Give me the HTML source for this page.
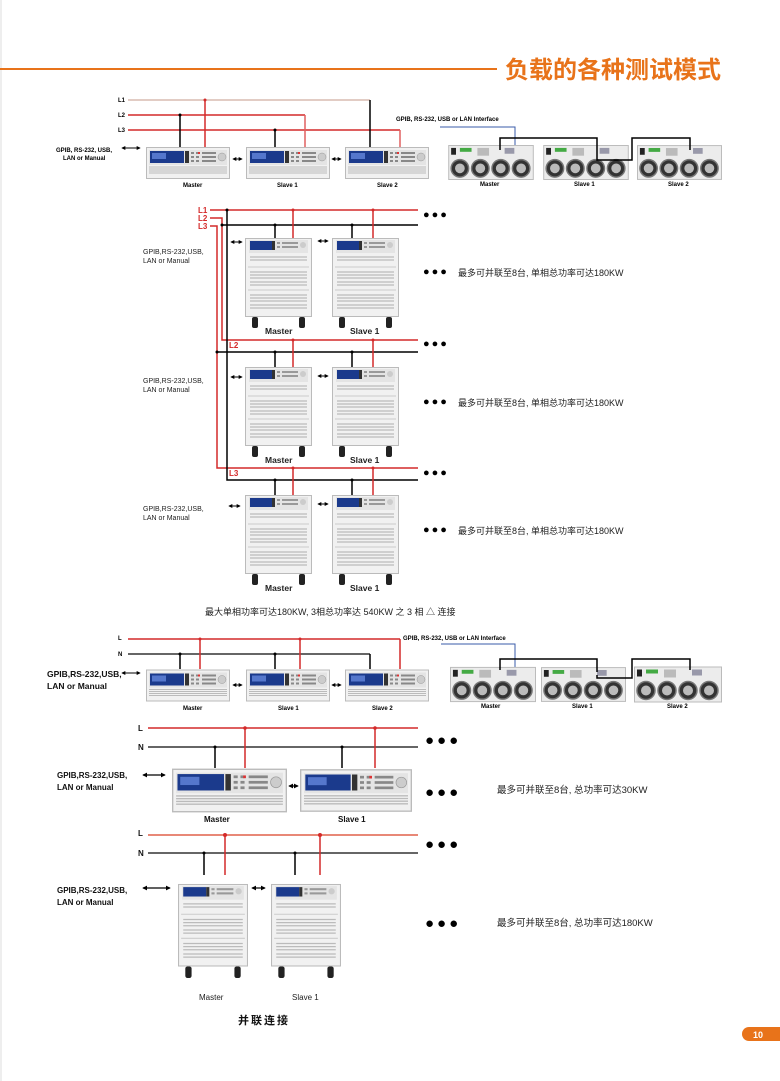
<!DOCTYPE html>
<html><head><meta charset="utf-8"><style>
html,body{margin:0;padding:0;background:#fff;}
svg{display:block;font-family:"Liberation Sans","Noto Sans CJK SC",sans-serif;}
</style></head><body>
<svg width="780" height="1081" viewBox="0 0 780 1081" xmlns="http://www.w3.org/2000/svg">
<defs>
<symbol id="front" viewBox="0 0 84 32">
<rect x="0.5" y="0.5" width="83" height="31" fill="#f1f1f1" stroke="#bbb"/>
<rect x="3" y="3" width="78" height="15" fill="#e4e4e4"/>
<rect x="4" y="4" width="34" height="12" fill="#1b3a8c"/>
<rect x="6" y="6" width="14" height="6" fill="#5577cc"/>
<rect x="39" y="4" width="4" height="12" fill="#333"/>
<g fill="#888"><rect x="45" y="5" width="3" height="2"/><rect x="50" y="5" width="3" height="2"/><rect x="45" y="9" width="3" height="2"/><rect x="50" y="9" width="3" height="2"/><rect x="45" y="13" width="3" height="2"/><rect x="50" y="13" width="3" height="2"/><rect x="56" y="5" width="14" height="2"/><rect x="56" y="9" width="14" height="2"/><rect x="56" y="13" width="14" height="2"/></g>
<rect x="52" y="5" width="2" height="2" fill="#d33"/>
<circle cx="76" cy="10" r="4" fill="#ccc" stroke="#999" stroke-width="0.5"/>
<g stroke="#bbb" stroke-width="1"><line x1="3" y1="20" x2="81" y2="20"/><line x1="3" y1="22" x2="81" y2="22"/><line x1="3" y1="24" x2="81" y2="24"/><line x1="3" y1="26" x2="81" y2="26"/></g>
</symbol>
<symbol id="tall" viewBox="0 0 67 90">
<rect x="0.5" y="0.5" width="66" height="78" fill="#f1f1f1" stroke="#bbb"/>
<rect x="4" y="2" width="59" height="13" fill="#e4e4e4"/>
<rect x="5" y="3" width="22" height="9" fill="#1b3a8c"/>
<rect x="27" y="3" width="3" height="9" fill="#333"/>
<g fill="#999"><rect x="32" y="4" width="3" height="2"/><rect x="32" y="8" width="3" height="2"/><rect x="37" y="4" width="16" height="2"/><rect x="37" y="8" width="16" height="2"/></g>
<circle cx="58" cy="7" r="3" fill="#ccc"/>
<g stroke="#bbb" stroke-width="1.2">
<line x1="5" y1="19" x2="62" y2="19"/><line x1="5" y1="22" x2="62" y2="22"/>
<line x1="5" y1="34" x2="62" y2="34"/><line x1="5" y1="37" x2="62" y2="37"/><line x1="5" y1="40" x2="62" y2="40"/><line x1="5" y1="44" x2="62" y2="44"/><line x1="5" y1="47" x2="62" y2="47"/>
<line x1="5" y1="57" x2="62" y2="57"/><line x1="5" y1="60" x2="62" y2="60"/><line x1="5" y1="63" x2="62" y2="63"/><line x1="5" y1="67" x2="62" y2="67"/><line x1="5" y1="70" x2="62" y2="70"/></g>
<line x1="3" y1="29" x2="64" y2="29" stroke="#ccc"/><line x1="3" y1="52" x2="64" y2="52" stroke="#ccc"/>
<rect x="7" y="79" width="6" height="11" rx="2" fill="#222"/><rect x="54" y="79" width="6" height="11" rx="2" fill="#222"/>
</symbol>
<symbol id="rear" viewBox="0 0 88 36">
<rect x="0.5" y="0.5" width="87" height="35" fill="#ececec" stroke="#bbb"/>
<rect x="3" y="3" width="5" height="7" fill="#222"/>
<rect x="12" y="3" width="12" height="4" fill="#4a4"/>
<rect x="30" y="3" width="12" height="8" fill="#bbb"/>
<rect x="58" y="3" width="10" height="6" fill="#99a"/>
<g fill="#333" stroke="#777" stroke-width="1.5"><circle cx="12" cy="24" r="9"/><circle cx="33" cy="24" r="9"/><circle cx="54" cy="24" r="9"/><circle cx="75" cy="24" r="9"/></g>
<g fill="#bbb"><circle cx="12" cy="24" r="5"/><circle cx="33" cy="24" r="5"/><circle cx="54" cy="24" r="5"/><circle cx="75" cy="24" r="5"/></g>
</symbol>
<marker id="ah" viewBox="0 0 6 6" refX="5" refY="3" markerWidth="4" markerHeight="4" orient="auto-start-reverse"><path d="M0,0L6,3L0,6z" fill="#000"/></marker>
</defs>

<line x1="1" y1="0" x2="1" y2="1081" stroke="#ddd"/>
<!-- header -->
<line x1="0" y1="69" x2="497" y2="69" stroke="#e8731a" stroke-width="2"/>
<text x="505" y="78" font-size="24" font-weight="bold" fill="#e8731a">负载的各种测试模式</text>

<!-- Section 1 -->
<g font-size="6" font-weight="bold" fill="#000">
<text x="118" y="102">L1</text><text x="118" y="117">L2</text><text x="118" y="132">L3</text>
<text x="56" y="152">GPIB, RS-232, USB,</text><text x="63" y="160">LAN or Manual</text>
<text x="183" y="187">Master</text><text x="277" y="187">Slave 1</text><text x="377" y="187">Slave 2</text>
<text x="396" y="121">GPIB, RS-232, USB or LAN Interface</text>
<text x="480" y="186">Master</text><text x="574" y="186">Slave 1</text><text x="668" y="186">Slave 2</text>
</g>
<line x1="128" y1="100" x2="370" y2="100" stroke="#d8bcb0" stroke-width="1.5"/>
<line x1="128" y1="115" x2="305" y2="115" stroke="#d42a2a" stroke-width="1.5"/>
<line x1="128" y1="130" x2="400" y2="130" stroke="#d42a2a" stroke-width="1.5"/>
<g stroke-width="1.5" fill="none">
<path d="M205 100V147" stroke="#d42a2a"/><path d="M180 115V147" stroke="#000"/>
<path d="M305 115V147" stroke="#e06060"/><path d="M275 130V147" stroke="#000"/>
<path d="M370 100V147" stroke="#000"/><path d="M400 130V147" stroke="#e06060"/>
</g>
<g fill="#000"><circle cx="205" cy="100" r="1.5" fill="#d42a2a"/><circle cx="180" cy="115" r="1.5"/><circle cx="275" cy="130" r="1.5"/></g>
<use href="#front" x="146" y="147" width="84" height="32"/>
<use href="#front" x="246" y="147" width="84" height="32"/>
<use href="#front" x="345" y="147" width="84" height="32"/>
<g stroke="#000" stroke-width="1" marker-start="url(#ah)" marker-end="url(#ah)">
<line x1="122" y1="148" x2="140" y2="148"/><line x1="233" y1="159" x2="242" y2="159"/><line x1="332" y1="159" x2="341" y2="159"/>
</g>
<path d="M440 127H515V148" stroke="#3a5ba8" stroke-width="1" fill="none"/>
<use href="#rear" x="447" y="145" width="88" height="35"/>
<use href="#rear" x="542" y="145" width="88" height="35"/>
<use href="#rear" x="637" y="145" width="85" height="35"/>
<path d="M500 150V138H597V155M597 155V160H632V138H690V150" stroke="#000" stroke-width="1.5" fill="none"/>

<!-- Section 2 -->
<g stroke-width="1.5" fill="none">
<line x1="210" y1="210" x2="418" y2="210" stroke="#d42a2a"/>
<path d="M210 218H222V340H418" stroke="#d42a2a"/>
<path d="M210 226H217V468H418" stroke="#d42a2a"/>
<line x1="222" y1="225" x2="418" y2="225" stroke="#000"/>
<path d="M227 210V480H418" stroke="#000"/>
<line x1="217" y1="352" x2="418" y2="352" stroke="#000"/>
<path d="M293 210V238M373 210V238M293 340V368M373 340V368M293 468V495M373 468V495" stroke="#d42a2a"/>
<path d="M275 225V238M352 225V238M275 352V368M352 352V368M275 480V495M352 480V495" stroke="#000"/>
</g>
<g fill="#000"><circle cx="227" cy="210" r="1.5"/><circle cx="222" cy="225" r="1.5"/><circle cx="217" cy="352" r="1.5"/><circle cx="275" cy="225" r="1.5"/><circle cx="352" cy="225" r="1.5"/><circle cx="275" cy="352" r="1.5"/><circle cx="352" cy="352" r="1.5"/><circle cx="275" cy="480" r="1.5"/><circle cx="352" cy="480" r="1.5"/></g>
<g fill="#d42a2a"><circle cx="293" cy="210" r="1.5"/><circle cx="373" cy="210" r="1.5"/><circle cx="293" cy="340" r="1.5"/><circle cx="373" cy="340" r="1.5"/><circle cx="293" cy="468" r="1.5"/><circle cx="373" cy="468" r="1.5"/></g>
<g font-size="8" font-weight="bold" fill="#d42a2a"><text x="198" y="213">L1</text><text x="198" y="221">L2</text><text x="198" y="229">L3</text><text x="229" y="348">L2</text><text x="229" y="476">L3</text></g>
<g font-size="7" fill="#222"><text x="143" y="254">GPIB,RS-232,USB,</text><text x="143" y="263">LAN or Manual</text>
<text x="143" y="383">GPIB,RS-232,USB,</text><text x="143" y="392">LAN or Manual</text>
<text x="143" y="511">GPIB,RS-232,USB,</text><text x="143" y="520">LAN or Manual</text></g>
<use href="#tall" x="245" y="238" width="67" height="90"/><use href="#tall" x="332" y="238" width="67" height="90"/>
<use href="#tall" x="245" y="367" width="67" height="90"/><use href="#tall" x="332" y="367" width="67" height="90"/>
<use href="#tall" x="245" y="495" width="67" height="90"/><use href="#tall" x="332" y="495" width="67" height="90"/>
<g font-size="8.5" font-weight="bold" fill="#222"><text x="265" y="334">Master</text><text x="350" y="334">Slave 1</text>
<text x="265" y="463">Master</text><text x="350" y="463">Slave 1</text><text x="265" y="591">Master</text><text x="350" y="591">Slave 1</text></g>
<g stroke="#000" stroke-width="1" marker-start="url(#ah)" marker-end="url(#ah)">
<line x1="231" y1="242" x2="242" y2="242"/><line x1="318" y1="241" x2="328" y2="241"/>
<line x1="231" y1="377" x2="242" y2="377"/><line x1="318" y1="376" x2="328" y2="376"/>
<line x1="229" y1="506" x2="240" y2="506"/><line x1="318" y1="504" x2="328" y2="504"/>
</g>
<g font-size="11" fill="#000" letter-spacing="2"><text x="423" y="218">●●●</text><text x="423" y="275">●●●</text><text x="423" y="347">●●●</text><text x="423" y="405">●●●</text><text x="423" y="476">●●●</text><text x="423" y="533">●●●</text></g>
<g font-size="9" fill="#222"><text x="458" y="276">最多可并联至8台, 单相总功率可达180KW</text><text x="458" y="406">最多可并联至8台, 单相总功率可达180KW</text><text x="458" y="534">最多可并联至8台, 单相总功率可达180KW</text>
<text x="205" y="615">最大单相功率可达180KW, 3相总功率达 540KW 之 3 相 △ 连接</text></g>

<!-- Section 3 -->
<g font-size="6" font-weight="bold" fill="#000"><text x="118" y="640">L</text><text x="118" y="656">N</text>
<text x="183" y="710">Master</text><text x="278" y="710">Slave 1</text><text x="372" y="710">Slave 2</text>
<text x="403" y="640">GPIB, RS-232, USB or  LAN Interface</text>
<text x="481" y="708">Master</text><text x="572" y="708">Slave 1</text><text x="667" y="708">Slave 2</text></g>
<g font-size="8.5" font-weight="bold" fill="#111"><text x="47" y="677">GPIB,RS-232,USB,</text><text x="47" y="689">LAN or Manual</text></g>
<line x1="128" y1="639" x2="400" y2="639" stroke="#d42a2a" stroke-width="1.5"/>
<line x1="128" y1="654" x2="370" y2="654" stroke="#333" stroke-width="1.5"/>
<g stroke-width="1.5" fill="none"><path d="M200 639V669M300 639V669M400 639V669" stroke="#d42a2a"/><path d="M180 654V669M275 654V669M370 654V669" stroke="#000"/></g>
<g fill="#d42a2a"><circle cx="200" cy="639" r="1.5"/><circle cx="300" cy="639" r="1.5"/></g>
<g fill="#000"><circle cx="180" cy="654" r="1.5"/><circle cx="275" cy="654" r="1.5"/></g>
<use href="#front" x="146" y="669" width="84" height="33"/><use href="#front" x="246" y="669" width="84" height="33"/><use href="#front" x="345" y="669" width="84" height="33"/>
<g stroke="#000" stroke-width="1" marker-start="url(#ah)" marker-end="url(#ah)">
<line x1="122" y1="673" x2="140" y2="673"/><line x1="233" y1="685" x2="242" y2="685"/><line x1="332" y1="685" x2="341" y2="685"/></g>
<path d="M441 644H515V668" stroke="#3a5ba8" stroke-width="1" fill="none"/>
<use href="#rear" x="450" y="666" width="86" height="37"/><use href="#rear" x="541" y="666" width="85" height="37"/><use href="#rear" x="634" y="666" width="88" height="37"/>
<path d="M500 670V659H597V672M597 675V678H632V659H690V670" stroke="#000" stroke-width="1.5" fill="none"/>

<!-- Section 4 -->
<g font-size="8" font-weight="bold" fill="#111"><text x="138" y="731">L</text><text x="138" y="750">N</text>
<text x="57" y="778">GPIB,RS-232,USB,</text><text x="57" y="790">LAN or Manual</text>
<text x="204" y="822">Master</text><text x="338" y="822">Slave 1</text></g>
<line x1="148" y1="728" x2="418" y2="728" stroke="#d42a2a" stroke-width="1.5"/>
<line x1="148" y1="747" x2="418" y2="747" stroke="#333" stroke-width="1.5"/>
<g stroke-width="1.5" fill="none"><path d="M245 728V768M375 728V768" stroke="#d42a2a"/><path d="M215 747V768M342 747V768" stroke="#000"/></g>
<g fill="#d42a2a"><circle cx="245" cy="728" r="1.8"/><circle cx="375" cy="728" r="1.8"/></g>
<g fill="#000"><circle cx="215" cy="747" r="1.5"/><circle cx="342" cy="747" r="1.5"/></g>
<use href="#front" x="172" y="768" width="115" height="45"/><use href="#front" x="300" y="768" width="112" height="45"/>
<g stroke="#000" stroke-width="1.2" marker-start="url(#ah)" marker-end="url(#ah)">
<line x1="143" y1="775" x2="165" y2="775"/><line x1="289" y1="786" x2="298" y2="786"/></g>
<g font-size="15" fill="#000" letter-spacing="3"><text x="425" y="745">●●●</text><text x="425" y="797">●●●</text></g>
<text x="497" y="793" font-size="9.5" fill="#222">最多可并联至8台, 总功率可达30KW</text>

<!-- Section 5 -->
<g font-size="8" font-weight="bold" fill="#111"><text x="138" y="836">L</text><text x="138" y="856">N</text>
<text x="57" y="893">GPIB,RS-232,USB,</text><text x="57" y="905">LAN or Manual</text></g>
<line x1="148" y1="835" x2="418" y2="835" stroke="#e0604a" stroke-width="1.5"/>
<line x1="148" y1="853" x2="418" y2="853" stroke="#333" stroke-width="1.5"/>
<g stroke-width="1.5" fill="none"><path d="M225 835V875M320 835V875" stroke="#d42a2a"/><path d="M204 853V875M295 853V875" stroke="#000"/></g>
<g fill="#d42a2a"><circle cx="225" cy="835" r="2"/><circle cx="320" cy="835" r="2"/></g>
<g fill="#000"><circle cx="204" cy="853" r="1.5"/><circle cx="295" cy="853" r="1.5"/></g>
<use href="#tall" x="178" y="875" width="70" height="112"/><use href="#tall" x="271" y="875" width="70" height="112"/>
<g stroke="#000" stroke-width="1.2" marker-start="url(#ah)" marker-end="url(#ah)">
<line x1="143" y1="888" x2="170" y2="888"/><line x1="252" y1="888" x2="265" y2="888"/></g>
<g font-size="8" fill="#222"><text x="199" y="1000">Master</text><text x="292" y="1000">Slave 1</text></g>
<text x="238" y="1024" font-size="11" font-weight="bold" fill="#111" letter-spacing="2">并联连接</text>
<g font-size="15" fill="#000" letter-spacing="3"><text x="425" y="849">●●●</text><text x="425" y="928">●●●</text></g>
<text x="497" y="926" font-size="9.5" fill="#222">最多可并联至8台, 总功率可达180KW</text>

<!-- page number -->
<path d="M749 1027H780V1041H749A7 7 0 0 1 749 1027Z" fill="#e8731a"/>
<text x="753" y="1038" font-size="9" font-weight="bold" fill="#fff">10</text>
</svg>
</body></html>
